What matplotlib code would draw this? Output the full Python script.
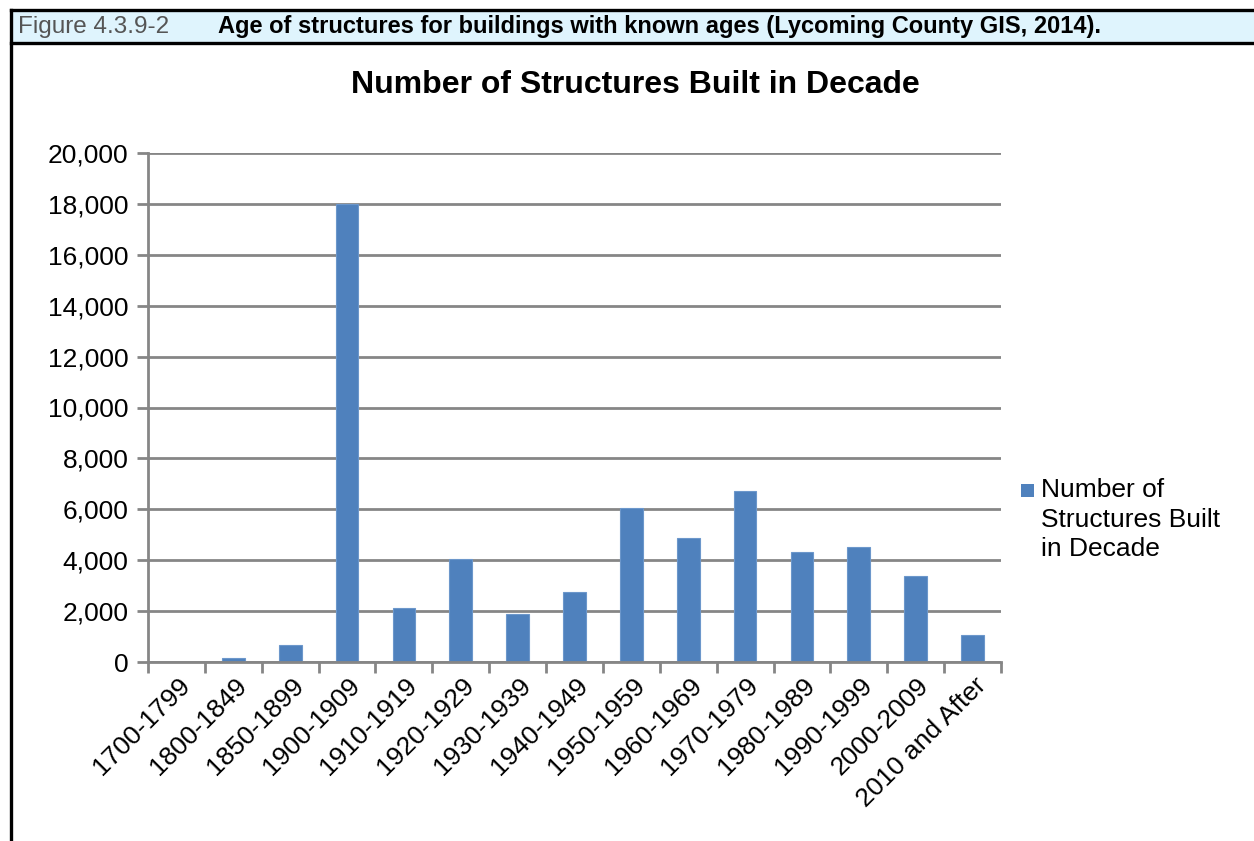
import matplotlib.pyplot as plt
from matplotlib.patches import Rectangle
from matplotlib.lines import Line2D
from matplotlib.ticker import FuncFormatter
import numpy as np

plt.rcParams["font.family"] = ["Liberation Sans", "DejaVu Sans"]

decades = ["1700-1799", "1800-1849", "1850-1899", "1900-1909", "1910-1919",
           "1920-1929", "1930-1939", "1940-1949", "1950-1959", "1960-1969",
           "1970-1979", "1980-1989", "1990-1999", "2000-2009", "2010 and After"]
counts = [10, 150, 670, 18000, 2120, 4030, 1870, 2750, 6060, 4880,
          6700, 4310, 4500, 3380, 1060]
yticks = [0, 2000, 4000, 6000, 8000, 10000, 12000, 14000, 16000, 18000, 20000]

bar_color = "#4F81BD"
grid_color = "#868686"

W, H = 1254, 841
fig = plt.figure(figsize=(W / 100, H / 100), dpi=100)

# header band with caption
fig.patches.append(Rectangle((11 / W, 1 - 43 / H), 1, 34 / H, transform=fig.transFigure,
                             facecolor="#DFF4FD", edgecolor="none"))
fig.lines.append(Line2D([11 / W, 1], [1 - 9.5 / H] * 2, transform=fig.transFigure,
                        color="black", lw=2.4))
fig.lines.append(Line2D([11 / W, 1], [1 - 42.5 / H] * 2, transform=fig.transFigure,
                        color="black", lw=2.4))
fig.lines.append(Line2D([11 / W] * 2, [1 - 9.5 / H, 0], transform=fig.transFigure,
                        color="black", lw=2.4))
fig.text(18 / W, 1 - 27 / H, "Figure 4.3.9-2", fontsize=17.5, color="#555555",
         va="center", ha="left")
fig.text(218 / W, 1 - 27 / H,
         "Age of structures for buildings with known ages (Lycoming County GIS, 2014).",
         fontsize=17, fontweight="bold", va="center", ha="left")

ax = fig.add_axes([148 / W, 1 - 662 / H, (1001 - 148) / W, (662 - 153) / H])
x = np.arange(len(decades))
ax.bar(x, counts, width=0.4, color=bar_color, edgecolor="#6C97CB", linewidth=0.8, zorder=3)

ax.set_xlim(-0.5, len(decades) - 0.5)
ax.set_ylim(0, 20000)
ax.set_yticks(yticks)
ax.yaxis.set_major_formatter(FuncFormatter(lambda v, p: f"{int(v):,}"))
ax.grid(axis="y", color=grid_color, lw=2, zorder=0)

# category boundary ticks on x, labels at centers
ax.set_xticks(np.arange(len(decades) + 1) - 0.5)
ax.set_xticklabels([])
ax.set_xticks(x + 0.02, minor=True)
ax.set_xticklabels(decades, minor=True, rotation=45, ha="right", rotation_mode="anchor",
                   fontsize=19)
ax.tick_params(axis="x", which="minor", length=0, pad=8)
ax.tick_params(axis="x", which="major", length=8, width=2, color=grid_color)
ax.tick_params(axis="y", length=8, width=2, color=grid_color, labelsize=19, pad=6)

for s in ["top", "right"]:
    ax.spines[s].set_visible(False)
for s in ["left", "bottom"]:
    ax.spines[s].set_color(grid_color)
    ax.spines[s].set_linewidth(2)
    ax.spines[s].set_zorder(4)

fig.text(635 / W, 1 - 85 / H, "Number of Structures Built in Decade", fontsize=23,
         fontweight="bold", ha="center", va="center")

# legend
fig.patches.append(Rectangle((1021 / W, 1 - 497 / H), 13 / W, 13 / H, transform=fig.transFigure,
                             facecolor=bar_color, edgecolor="none"))
fig.text(1041 / W, 1 - 478 / H, "Number of\nStructures Built\nin Decade", fontsize=19,
         ha="left", va="top", linespacing=1.3)

fig.savefig("out.png", dpi=100)
